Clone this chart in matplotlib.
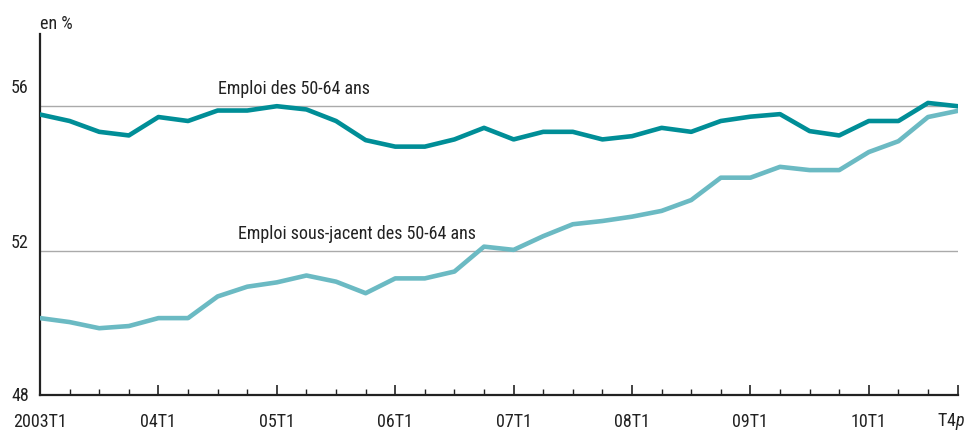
import matplotlib
matplotlib.use("Agg")
import matplotlib.pyplot as plt
import matplotlib.transforms as mtransforms
import numpy as np

plt.rcParams['font.family'] = ['Roboto Condensed', 'Liberation Sans', 'DejaVu Sans']
plt.rcParams['mathtext.fontset'] = 'custom'
plt.rcParams['mathtext.it'] = 'Roboto Condensed:italic'
plt.rcParams['mathtext.rm'] = 'Roboto Condensed'

# quarterly data, 2003T1 .. 2010T4
emploi = [55.77, 55.59, 55.29, 55.19, 55.70, 55.59, 55.88, 55.88,
          56.00, 55.91, 55.59, 55.06, 54.88, 54.88, 55.08, 55.40,
          55.08, 55.29, 55.29, 55.08, 55.17, 55.40, 55.29, 55.59,
          55.71, 55.78, 55.31, 55.19, 55.59, 55.59, 56.09, 56.00]
sous_jacent = [50.13, 50.02, 49.85, 49.91, 50.13, 50.13, 50.73, 51.00,
               51.12, 51.31, 51.14, 50.82, 51.23, 51.23, 51.42, 52.11,
               52.02, 52.40, 52.73, 52.82, 52.94, 53.10, 53.40, 54.02,
               54.02, 54.32, 54.23, 54.23, 54.73, 55.03, 55.70, 55.87]
xtick_pos = [0, 4, 8, 12, 16, 20, 24, 28]
xtick_labels = ['2003T1', '04T1', '05T1', '06T1', '07T1', '08T1', '09T1', '10T1']
last_label = 'T4$\\it{p}$'
ytick_vals = [48, 52, 56]

dark = '#008E97'
light = '#6BBAC3'
txt = '#222222'
fs = 13

fig = plt.figure(figsize=(9.67, 4.31), dpi=100)
ax = fig.add_axes([0.0414, 0.0812, 0.9489, 0.8376])

x = np.arange(len(emploi))
for v in ytick_vals[1:]:
    ax.axhline(v, color='#aaaaaa', lw=1.0, zorder=1)
ax.plot(x, sous_jacent, color=light, lw=3.3, zorder=3)
ax.plot(x, emploi, color=dark, lw=3.3, zorder=4)

ax.set_xlim(0, len(emploi) - 1)
ax.set_ylim(48, 58)

ax.set_xticks(xtick_pos + [len(emploi) - 1])
ax.set_xticklabels(xtick_labels + [''], fontsize=fs, color=txt)
ax.set_xticks(x, minor=True)
ax.tick_params(axis='x', which='major', direction='in', length=7, width=1.2, pad=12, color=txt)
ax.tick_params(axis='x', which='minor', direction='in', length=4, width=1.0, color=txt)
ax.annotate(last_label, xy=(len(emploi) - 1, 48), xytext=(-5, -10.5), textcoords='offset points',
            ha='center', va='top', fontsize=fs, color=txt, annotation_clip=False)

ax.set_yticks(ytick_vals)
ax.set_yticklabels([str(v) for v in ytick_vals], fontsize=fs, color=txt)
ax.tick_params(axis='y', length=0, pad=8)
labs = ax.get_yticklabels()
for lab, va in zip(labs, ['center', 'bottom', 'bottom']):
    lab.set_va(va)
labs[2].set_transform(labs[2].get_transform() +
                      mtransforms.ScaledTranslation(0, 10 / 100, fig.dpi_scale_trans))

for s in ['top', 'right']:
    ax.spines[s].set_visible(False)
for s in ['left', 'bottom']:
    ax.spines[s].set_linewidth(1.6)
    ax.spines[s].set_color(txt)

ax.text(6.0, 56.25, 'Emploi des 50-64 ans', fontsize=fs, color=txt, va='bottom')
ax.text(6.7, 52.25, 'Emploi sous-jacent des 50-64 ans', fontsize=fs, color=txt, va='bottom')
fig.text(0.041, 0.945, 'en %', fontsize=fs, color=txt, va='center')

fig.savefig('out.png', dpi=100)
